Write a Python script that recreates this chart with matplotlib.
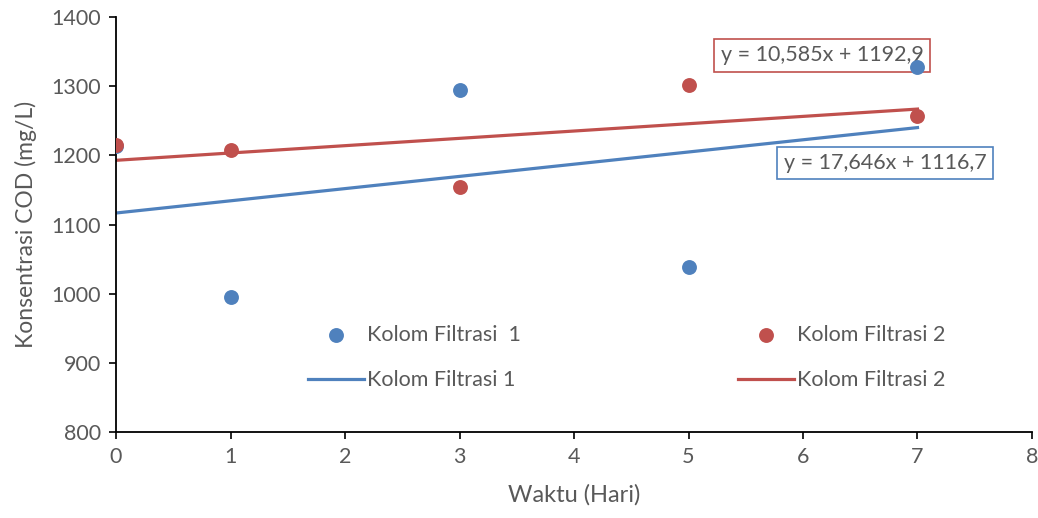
import numpy as np
import matplotlib
matplotlib.use("Agg")
import matplotlib.pyplot as plt

plt.rcParams['font.family'] = ['Lato', 'DejaVu Sans']

# data
hari = [0, 1, 3, 5, 7]
kolom1 = [1213, 995, 1295, 1038, 1328]
kolom2 = [1215, 1208, 1154, 1302, 1257]

# trendline coefficients (as printed on the chart)
slope1, icpt1 = 17.646, 1116.7
slope2, icpt2 = 10.585, 1192.9
eq1 = "y = 17,646x + 1116,7"
eq2 = "y = 10,585x + 1192,9"

blue = '#4F81BD'
red = '#C0504D'
grey = '#595959'

fig = plt.figure(figsize=(10.38, 5.18), dpi=100)
ax = fig.add_axes([0.1118, 0.166, 0.8824, 0.801])

xt = np.array([0, 7])
l1, = ax.plot(xt, slope1 * xt + icpt1, color=blue, lw=2.3, zorder=2)
l2, = ax.plot(xt, slope2 * xt + icpt2, color=red, lw=2.3, zorder=2)

s1 = ax.scatter(hari, kolom1, s=115, color=blue, zorder=4, linewidths=0)
s2 = ax.scatter(hari, kolom2, s=115, color=red, zorder=5, linewidths=0)

ax.text(6.166, 1345, eq2, fontsize=15.5, color=grey, ha='center', va='center',
        bbox=dict(boxstyle='square,pad=0.3', fc='white', ec=red, lw=1.2), zorder=3)
ax.text(6.716, 1189, eq1, fontsize=15.5, color=grey, ha='center', va='center',
        bbox=dict(boxstyle='square,pad=0.3', fc='white', ec=blue, lw=1.2), zorder=3)

ax.set_xlim(0, 8)
ax.set_ylim(800, 1400)
ax.set_xticks(range(0, 9))
ax.set_yticks(range(800, 1401, 100))
for sp in ['top', 'right']:
    ax.spines[sp].set_visible(False)
for sp in ['left', 'bottom']:
    ax.spines[sp].set_color('black')
    ax.spines[sp].set_linewidth(1.3)
ax.tick_params(axis='both', direction='out', length=5, width=1.2, color='black',
               labelcolor=grey, labelsize=15.5, pad=6)
ax.set_xlabel("Waktu (Hari)", fontsize=17, color=grey, labelpad=12)
ax.set_ylabel("Konsentrasi COD (mg/L)", fontsize=16.5, color=grey, labelpad=10)

leg_kw = dict(frameon=False, fontsize=15.5, handlelength=2.6, handletextpad=0.15,
              labelspacing=1.2, borderpad=0, borderaxespad=0, loc='center left',
              labelcolor=grey)
leg1 = ax.legend([s1, l1], ["Kolom Filtrasi  1", "Kolom Filtrasi 1"],
                 bbox_to_anchor=((308 - 116) / 916, 0.1795), **leg_kw)
ax.add_artist(leg1)
ax.legend([s2, l2], ["Kolom Filtrasi 2", "Kolom Filtrasi 2"],
          bbox_to_anchor=((738 - 116) / 916, 0.1795), **leg_kw)

fig.savefig("out.png", dpi=100)
